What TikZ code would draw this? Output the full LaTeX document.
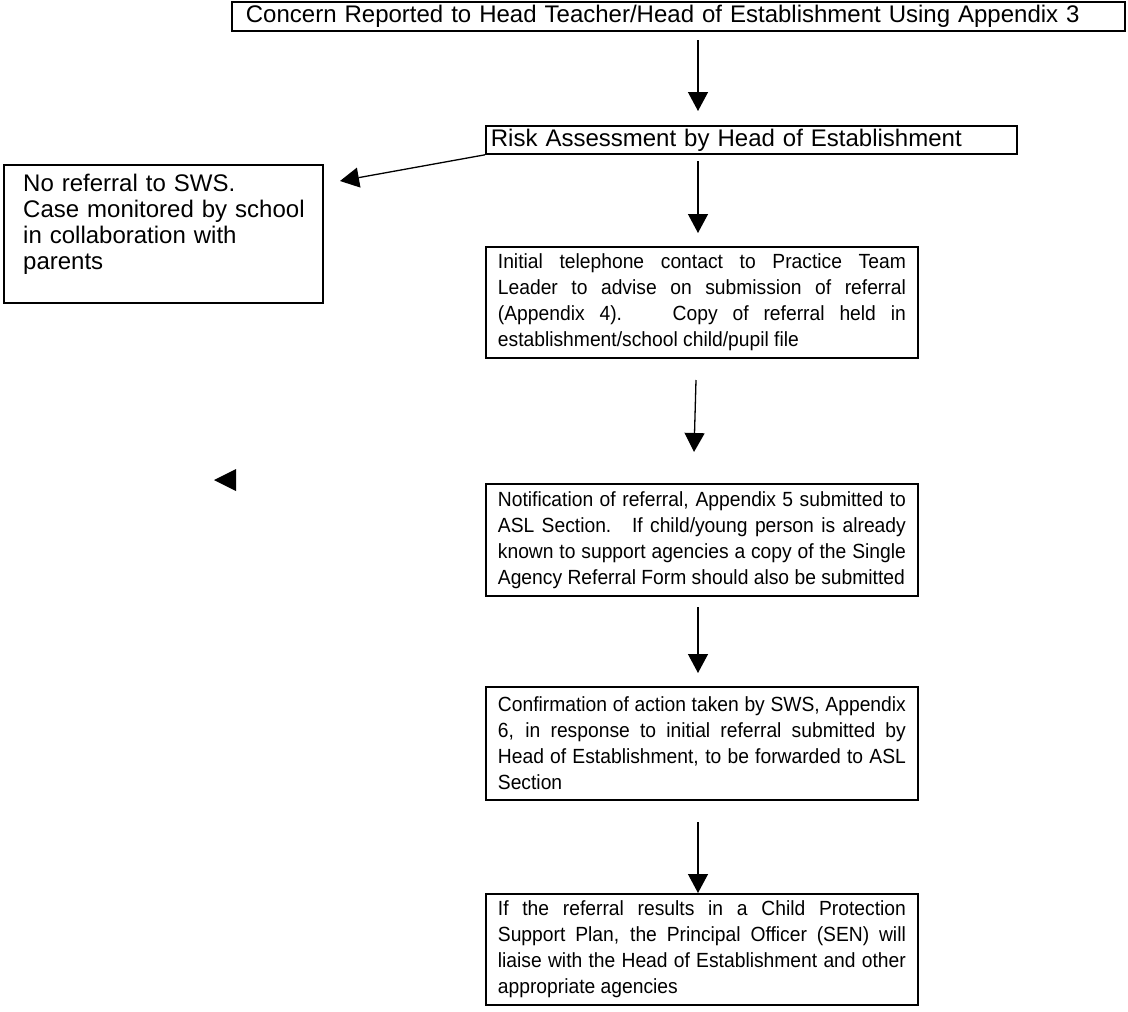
\documentclass[tikz,border=0pt]{standalone}
\usepackage{fontspec}
\usepackage{graphicx}
\setmainfont{Liberation Sans}
\usetikzlibrary{arrows.meta}
\newcommand{\jpara}[1]{\scalebox{0.94}[1]{\parbox{434pt}{\fontsize{20.5}{26}\selectfont #1}}}
\begin{document}
\begin{tikzpicture}[x=1pt,y=-1pt,
  txt/.style={font=\fontsize{24}{26}\selectfont},
  frame/.style={draw, line width=1.8pt},
  box/.style={frame, txt},
  jbox/.style={frame, anchor=north west, minimum width=432pt, inner sep=0pt},
  arr/.style={line width=1.3pt, -{Triangle[length=19pt,width=20pt]}}]
\useasboundingbox (0,0) rectangle (1128,1012);

% top box
\node[box, anchor=north west, minimum width=893pt, minimum height=29pt, text width=865pt, inner xsep=14pt, inner ysep=0pt, align=left] (top) at (231,1)
  {Concern Reported to Head Teacher/Head of Establishment Using Appendix 3};

% risk box
\node[box, anchor=north west, minimum width=531pt, minimum height=28pt, text width=521pt, inner xsep=5pt, inner ysep=0pt, align=left] (risk) at (485,125)
  {Risk Assessment by Head of Establishment};

% no referral box
\node[frame, anchor=north west, minimum width=319pt, minimum height=138pt, inner sep=0pt] (nobox) at (3,164) {};
\node[txt, anchor=north west, text width=295pt, align=left, inner sep=0pt] (notext) at (23,174)
  {No referral to SWS.\\Case monitored by school\\in collaboration with\\parents};

\node[jbox, minimum height=111pt] (tel) at (485,246)
  {\jpara{Initial telephone contact to Practice Team\linebreak
   Leader to advise on submission of referral\linebreak
   (Appendix 4).~ Copy of referral held in\linebreak
   establishment/school child/pupil file}};

\node[jbox, minimum height=112pt] (notif) at (485,483)
  {\jpara{Notification of referral, Appendix 5 submitted to\linebreak
   ASL Section.~ If child/young person is already\linebreak
   known to support agencies a copy of the Single\linebreak
   Agency Referral Form should also be submitted}};

\node[jbox, minimum height=113pt] (conf) at (485,686)
  {\jpara{Confirmation of action taken by SWS, Appendix\linebreak
   6, in response to initial referral submitted by\linebreak
   Head of Establishment, to be forwarded to ASL\linebreak
   Section}};

\node[jbox, minimum height=111pt] (cpp) at (485,893)
  {\jpara{If the referral results in a Child Protection\linebreak
   Support Plan, the Principal Officer (SEN) will\linebreak
   liaise with the Head of Establishment and other\linebreak
   appropriate agencies}};

% arrow end points
\coordinate (a1s) at (698,40);   \coordinate (a1e) at (698,111);
\coordinate (a2s) at (698,161);  \coordinate (a2e) at (698,233);
\coordinate (a3s) at (696,380);  \coordinate (a3e) at (694,452);
\coordinate (a4s) at (698,607);  \coordinate (a4e) at (698,673);
\coordinate (a5s) at (698,822);  \coordinate (a5e) at (698,893);
\coordinate (nltip) at (340,181);

\draw[arr] (a1s) -- (a1e);
\draw[arr] (a2s) -- (a2e);
\draw[arr] (a3s) -- (a3e);
\draw[arr] (a4s) -- (a4e);
\draw[arr] (a5s) -- (a5e);
\draw[arr] (risk.south west) -- (nltip);

% stray arrowhead
\fill (214,480) -- (236,469) -- (236,491) -- cycle;
\end{tikzpicture}
\end{document}
